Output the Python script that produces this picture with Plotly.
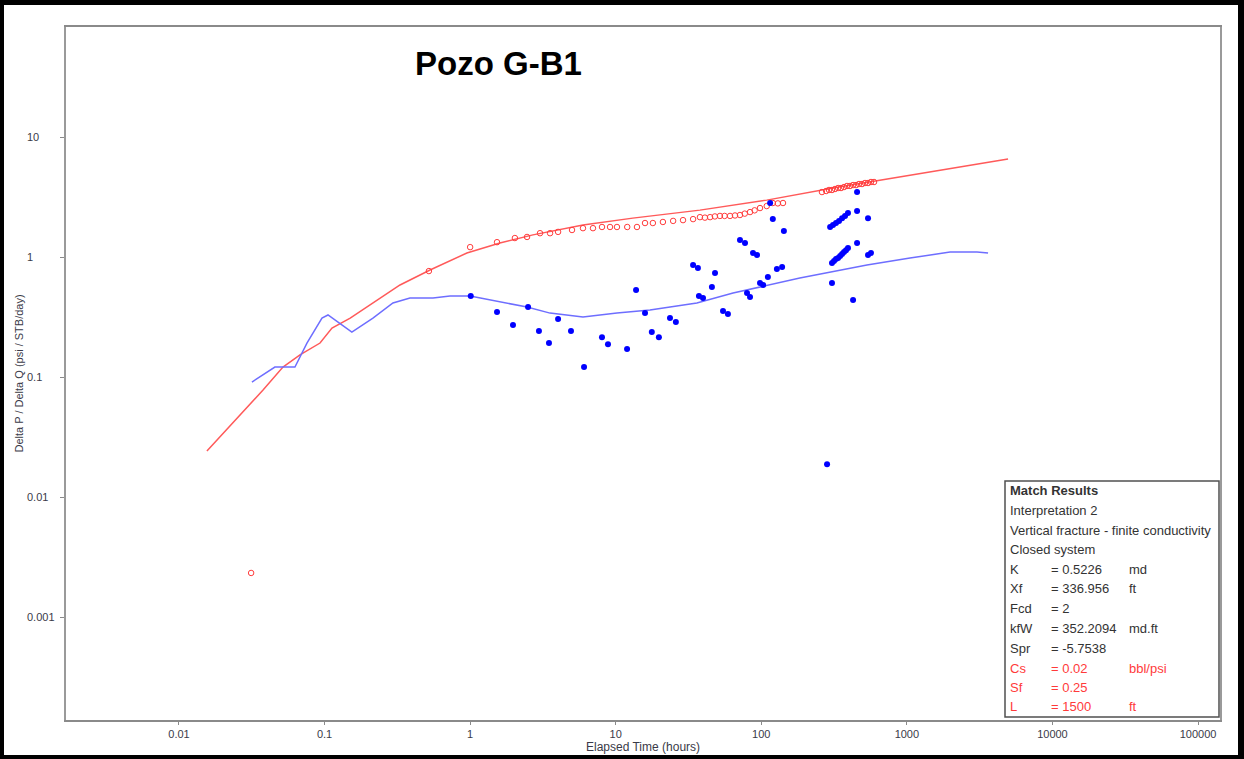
import math
import plotly.graph_objects as go

# ---------------- data ----------------
# model pressure curve (red line)
model_p_time = [0.01556, 0.0378, 0.0518, 0.0678, 0.0931, 0.1125, 0.150, 0.215, 0.330, 0.530,
                0.95, 1.60, 2.70, 5.96, 13.1, 37.9, 109, 311, 655, 4955]
model_p = [0.0242, 0.078, 0.121, 0.153, 0.192, 0.256, 0.310, 0.414, 0.585, 0.78,
           1.08, 1.31, 1.53, 1.85, 2.11, 2.46, 2.98, 3.76, 4.38, 6.56]

# model derivative curve (blue line)
model_d_time = [0.0317, 0.0456, 0.0626, 0.0757, 0.096, 0.1056, 0.154, 0.215, 0.295, 0.386,
                0.556, 0.728, 1.0, 1.60, 2.46, 3.54, 5.96, 10.2, 17.2, 36.1,
                64.0, 184, 532, 1051, 1981, 3035, 3612]
model_d = [0.0908, 0.121, 0.121, 0.192, 0.310, 0.329, 0.237, 0.310, 0.414, 0.455,
           0.455, 0.473, 0.473, 0.422, 0.383, 0.341, 0.316, 0.341, 0.362, 0.414,
           0.501, 0.668, 0.858, 0.981, 1.10, 1.10, 1.08]

# observed pressure change (red open circles)
obs_p_time = [0.0313, 0.521, 1.0, 1.53, 2.03, 2.46, 3.02, 3.54, 4.02, 5.01,
              5.96, 6.98, 8.05, 9.14, 10.2, 12.0, 14.0, 15.9, 18.0, 21.1,
              24.8, 29.0, 34.0, 37.9, 41.0, 44.5, 48.0, 52.0, 56.0, 61.0,
              66.0, 71.4, 77.0, 83.7, 90.0, 98.0, 109, 120, 130, 141,
              261, 279, 292, 306, 321, 337, 353, 370, 388, 407,
              427, 448, 469, 492, 516, 541, 567, 595]
obs_p = [0.00233, 0.764, 1.21, 1.33, 1.44, 1.47, 1.58, 1.58, 1.62, 1.68,
         1.74, 1.74, 1.78, 1.78, 1.78, 1.78, 1.78, 1.92, 1.92, 1.96,
         2.00, 2.03, 2.07, 2.15, 2.13, 2.15, 2.18, 2.20, 2.20, 2.20,
         2.22, 2.24, 2.30, 2.37, 2.45, 2.56, 2.66, 2.82, 2.80, 2.82,
         3.48, 3.55, 3.62, 3.62, 3.69, 3.76, 3.76, 3.83, 3.91, 3.91,
         3.98, 3.98, 4.06, 4.06, 4.14, 4.14, 4.22, 4.22]

# observed derivative (blue filled dots)
obs_d_time = [1.01, 1.53, 1.97, 2.50, 2.97, 3.48, 4.02, 4.93, 6.06, 8.05,
              8.85, 11.97, 13.8, 15.9, 17.7, 19.8, 23.6, 25.9, 34.0, 36.7,
              37.3, 39.8, 45.8, 48.1, 54.6, 59.0, 71.4, 77.3, 79.8, 83.7,
              87.7, 93.5, 98.0, 103, 111, 115, 120, 128, 139, 143,
              283, 306, 427, 455, 455, 541, 455, 541, 567,
              297, 311, 326, 342, 359, 376, 394,
              306, 316, 326, 337, 348, 359, 370, 382, 394]
obs_d = [0.473, 0.348, 0.271, 0.383, 0.242, 0.192, 0.304, 0.242, 0.121, 0.215,
         0.188, 0.171, 0.531, 0.341, 0.237, 0.215, 0.310, 0.287, 0.858, 0.81,
         0.473, 0.455, 0.562, 0.735, 0.355, 0.335, 1.39, 1.31, 0.501, 0.464,
         1.08, 1.04, 0.607, 0.584, 0.681, 2.82, 2.07, 0.794, 0.826, 1.65,
         0.0188, 0.607, 0.438, 3.48, 2.42, 2.11, 1.31, 1.04, 1.08,
         1.78, 1.85, 1.92, 2.00, 2.11, 2.20, 2.33,
         0.891, 0.926, 0.962, 0.98, 1.02, 1.06, 1.10, 1.14, 1.19]

x_tick_vals = [0.01, 0.1, 1, 10, 100, 1000, 10000, 100000]
x_tick_text = ["0.01", "0.1", "1", "10", "100", "1000", "10000", "100000"]
y_tick_vals = [0.001, 0.01, 0.1, 1, 10]
y_tick_text = ["0.001", "0.01", "0.1", "1", "10"]

match_header = ["Match Results", "Interpretation 2",
                "Vertical fracture - finite conductivity", "Closed system"]
match_names = ["K", "Xf", "Fcd", "kfW", "Spr", "Cs", "Sf", "L"]
match_values = ["= 0.5226", "= 336.956", "= 2", "= 352.2094", "= -5.7538",
                "= 0.02", "= 0.25", "= 1500"]
match_units = ["md", "ft", "", "md.ft", "", "bbl/psi", "", "ft"]
match_is_red = [False, False, False, False, False, True, True, True]

# ---------------- layout helpers (pixel -> paper) ----------------
W, H = 1244, 759
ML, MR, MT, MB = 66, 24, 27, 39
PW, PH = W - ML - MR, H - MT - MB


def px(x):
    return (x - ML) / PW


def py(y):
    return (H - MB - y) / PH


FONT = "Liberation Sans, Arial, sans-serif"
TXT = "#3a3a48"
RED_TXT = "#ff3a3a"

fig = go.Figure()

fig.add_trace(go.Scatter(x=model_p_time, y=model_p, mode="lines",
                         line=dict(color="#ff5a5a", width=1.5), showlegend=False))
fig.add_trace(go.Scatter(x=model_d_time, y=model_d, mode="lines",
                         line=dict(color="#6e6eff", width=1.5), showlegend=False))
fig.add_trace(go.Scatter(x=obs_p_time, y=obs_p, mode="markers",
                         marker=dict(symbol="circle-open", size=5.5, color="#ff3c3c",
                                     line=dict(width=1, color="#ff3c3c")),
                         showlegend=False))
fig.add_trace(go.Scatter(x=obs_d_time, y=obs_d, mode="markers",
                         marker=dict(symbol="circle", size=6, color="#0000ff"),
                         showlegend=False))

annotations = []
# y tick labels (left aligned as in the reference)
for v, t in zip(y_tick_vals, y_tick_text):
    annotations.append(dict(xref="paper", yref="y", x=px(25), y=math.log10(v),
                            text=t, showarrow=False, xanchor="left", yanchor="middle",
                            font=dict(family=FONT, size=11, color=TXT)))
# axis titles
annotations.append(dict(xref="paper", yref="paper", x=0.5, y=py(747),
                        text="Elapsed Time (hours)", showarrow=False,
                        xanchor="center", yanchor="middle",
                        font=dict(family=FONT, size=12, color=TXT)))
annotations.append(dict(xref="paper", yref="paper", x=px(18), y=0.5,
                        text="Delta P / Delta Q (psi / STB/day)", textangle=-90,
                        showarrow=False, xanchor="center", yanchor="middle",
                        font=dict(family=FONT, size=11, color=TXT)))
# chart title
annotations.append(dict(xref="paper", yref="paper", x=px(498), y=py(63),
                        text="<b>Pozo G-B1</b>", showarrow=False,
                        xanchor="center", yanchor="middle",
                        font=dict(family=FONT, size=33, color="#000000")))
# match results box text
row_y = [490, 510, 530, 549, 569, 588, 608, 628, 648, 668, 687, 706]
for i, t in enumerate(match_header):
    txt = "<b>%s</b>" % t if i == 0 else t
    annotations.append(dict(xref="paper", yref="paper", x=px(1008), y=py(row_y[i]),
                            text=txt, showarrow=False, xanchor="left", yanchor="middle",
                            font=dict(family=FONT, size=13, color="#333333")))
for j, (n, v, u, red) in enumerate(zip(match_names, match_values, match_units, match_is_red)):
    c = RED_TXT if red else "#333333"
    yy = py(row_y[4 + j])
    for xx, t in ((1008, n), (1049, v), (1127, u)):
        if t:
            annotations.append(dict(xref="paper", yref="paper", x=px(xx), y=yy,
                                    text=t, showarrow=False, xanchor="left",
                                    yanchor="middle",
                                    font=dict(family=FONT, size=13, color=c)))

shapes = [
    # match results box
    dict(type="rect", xref="paper", yref="paper", x0=px(1005), x1=px(1219),
         y0=py(717), y1=py(481), line=dict(color="#505050", width=1.5),
         fillcolor="white", layer="above"),
    # outer black border of the picture
    dict(type="rect", xref="paper", yref="paper", x0=px(0), x1=px(4), y0=py(759), y1=py(0),
         line=dict(width=0), fillcolor="black"),
    dict(type="rect", xref="paper", yref="paper", x0=px(0), x1=px(1244), y0=py(5), y1=py(0),
         line=dict(width=0), fillcolor="black"),
    dict(type="rect", xref="paper", yref="paper", x0=px(1238), x1=px(1244), y0=py(759), y1=py(0),
         line=dict(width=0), fillcolor="black"),
    dict(type="rect", xref="paper", yref="paper", x0=px(0), x1=px(1244), y0=py(759), y1=py(755),
         line=dict(width=0), fillcolor="black"),
]

fig.update_layout(
    width=W, height=H, autosize=False,
    margin=dict(l=ML, r=MR, t=MT, b=MB, pad=0),
    paper_bgcolor="white", plot_bgcolor="white",
    showlegend=False,
    annotations=annotations,
    shapes=shapes,
    xaxis=dict(type="log", range=[-2.776, 5.151], showgrid=False, zeroline=False,
               showline=True, linecolor="#8a8a8a", linewidth=2, mirror=True,
               ticks="outside", ticklen=3, tickcolor="#8a8a8a", tickwidth=1,
               tickvals=x_tick_vals, ticktext=x_tick_text,
               tickfont=dict(family=FONT, size=11, color=TXT)),
    yaxis=dict(type="log", range=[-3.858, 1.917], showgrid=False, zeroline=False,
               showline=True, linecolor="#9a9a9a", linewidth=2, mirror=True,
               ticks="outside", ticklen=4, tickcolor="#8a8a8a", tickwidth=1,
               tickvals=y_tick_vals, showticklabels=False),
)

fig.write_html("out.html",
               config={"displayModeBar": False},
               post_script="document.body.style.margin='0';"
                           "document.body.style.overflow='hidden';")
